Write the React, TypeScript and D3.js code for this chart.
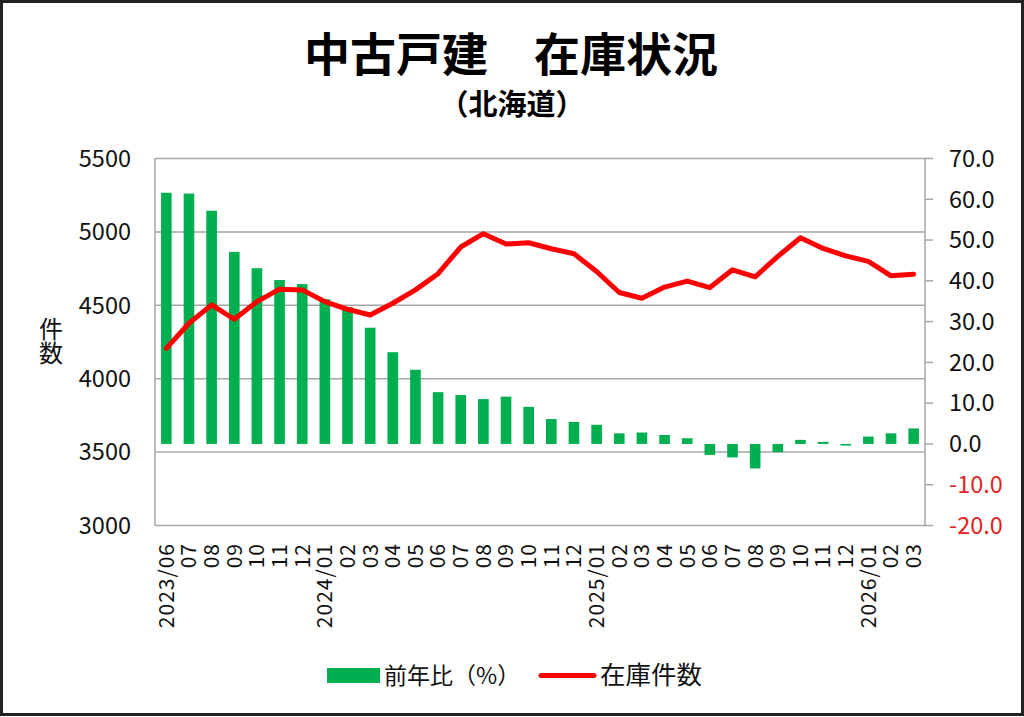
import * as d3 from "d3";

const MONTHS = [
  "2023/06", "07", "08", "09", "10", "11", "12",
  "2024/01", "02", "03", "04", "05", "06", "07", "08", "09", "10", "11", "12",
  "2025/01", "02", "03", "04", "05", "06", "07", "08", "09", "10", "11", "12",
  "2026/01", "02", "03",
];

// 前年比(%) — right axis
const YOY = [
  61.6, 61.4, 57.2, 47.1, 43.1, 40.2, 39.2, 35.5, 33.5, 28.5, 22.5, 18.2,
  12.7, 12.0, 11.0, 11.6, 9.1, 6.1, 5.4, 4.7, 2.6, 2.8, 2.2, 1.4,
  -2.7, -3.3, -6.0, -2.0, 1.0, 0.5, -0.4, 1.8, 2.6, 3.8,
];

// 在庫件数 — left axis
const STOCK = [
  4207, 4378, 4503, 4405, 4525, 4610, 4605, 4525, 4473, 4434, 4514, 4605,
  4715, 4897, 4988, 4917, 4926, 4885, 4851, 4730, 4587, 4548, 4624, 4665,
  4621, 4742, 4694, 4833, 4960, 4887, 4837, 4799, 4701, 4712,
];

const LEFT_TICKS = [3000, 3500, 4000, 4500, 5000, 5500];
const RIGHT_TICKS = [-20, -10, 0, 10, 20, 30, 40, 50, 60, 70];

const W = 1024;
const H = 717;
const FONT = "'Noto Sans CJK JP', 'Noto Sans', sans-serif";
const GREEN = "#00b050";
const RED = "#ff0000";
const GRID = "#a6a6a6";

export default function App() {
  const plot = { left: 155, right: 925, top: 158.5, bottom: 525.5 };

  const x = d3.scaleBand<string>()
    .domain(MONTHS.map((m, i) => String(i)))
    .range([plot.left, plot.right])
    .paddingInner(0.53)
    .paddingOuter(0.265);
  const cx = (i: number) => (x(String(i)) ?? 0) + x.bandwidth() / 2;

  const yL = d3.scaleLinear().domain([3000, 5500]).range([plot.bottom, plot.top]);
  const yR = d3.scaleLinear().domain([-20, 70]).range([plot.bottom, plot.top]);

  const line = d3.line<number>()
    .x((_, i) => cx(i))
    .y(d => yL(d));

  return (
    <svg width={W} height={H} style={{ position: "absolute", left: 0, top: 0 }} fontFamily={FONT}>
      <rect x={0} y={0} width={W} height={H} fill="#fff" />
      <rect x={1.5} y={1.5} width={W - 3} height={H - 4} fill="none" stroke="#222" strokeWidth={3} />

      <text x={511} y={71} textAnchor="middle" fontSize={46} fontWeight={700}>中古戸建　在庫状況</text>
      <text x={512} y={115} textAnchor="middle" fontSize={29} fontWeight={700}>（北海道）</text>

      {/* gridlines from left axis */}
      {LEFT_TICKS.map(t => (
        <line key={t} x1={plot.left} x2={plot.right} y1={yL(t)} y2={yL(t)} stroke={GRID} strokeWidth={1.5} />
      ))}
      <line x1={plot.left} x2={plot.left} y1={plot.top} y2={plot.bottom} stroke={GRID} strokeWidth={1.5} />
      <line x1={plot.right} x2={plot.right} y1={plot.top} y2={plot.bottom} stroke={GRID} strokeWidth={1.5} />

      {/* left labels */}
      {LEFT_TICKS.map(t => (
        <text key={t} x={131} y={yL(t)} dy="0.35em" textAnchor="end" fontSize={23.5} fill="#111">{t}</text>
      ))}
      <text x={51} y={317} fontSize={24} fill="#111" style={{ writingMode: "vertical-rl" }}>件数</text>

      {/* right ticks & labels */}
      {RIGHT_TICKS.map(t => (
        <g key={t}>
          <line x1={plot.right} x2={plot.right + 8} y1={yR(t)} y2={yR(t)} stroke={GRID} strokeWidth={1.5} />
          <text x={949} y={yR(t)} dy="0.35em" fontSize={23.5} fill={t < 0 ? "#e02424" : "#111"}>{t.toFixed(1)}</text>
        </g>
      ))}

      {/* bars */}
      {YOY.map((v, i) => (
        <rect key={i} x={x(String(i))} width={x.bandwidth()}
          y={Math.min(yR(v), yR(0))} height={Math.abs(yR(v) - yR(0))} fill={GREEN} />
      ))}

      {/* line */}
      <path d={line(STOCK) ?? ""} fill="none" stroke={RED} strokeWidth={5} strokeLinejoin="round" strokeLinecap="round" />

      {/* x labels */}
      {MONTHS.map((m, i) => (
        <text key={i} transform={`translate(${cx(i)},${543}) rotate(-90)`} dy="0.35em"
          textAnchor="end" fontSize={21} letterSpacing={1} fill="#111">{m}</text>
      ))}

      {/* legend */}
      <rect x={327} y={668} width={53} height={15} fill={GREEN} />
      <text x={384} y={684} fontSize={23} fill="#111">前年比（%）</text>
      <line x1={541} x2={594} y1={675.5} y2={675.5} stroke={RED} strokeWidth={5} strokeLinecap="round" />
      <text x={600} y={684} fontSize={25.5} fill="#111">在庫件数</text>
    </svg>
  );
}
